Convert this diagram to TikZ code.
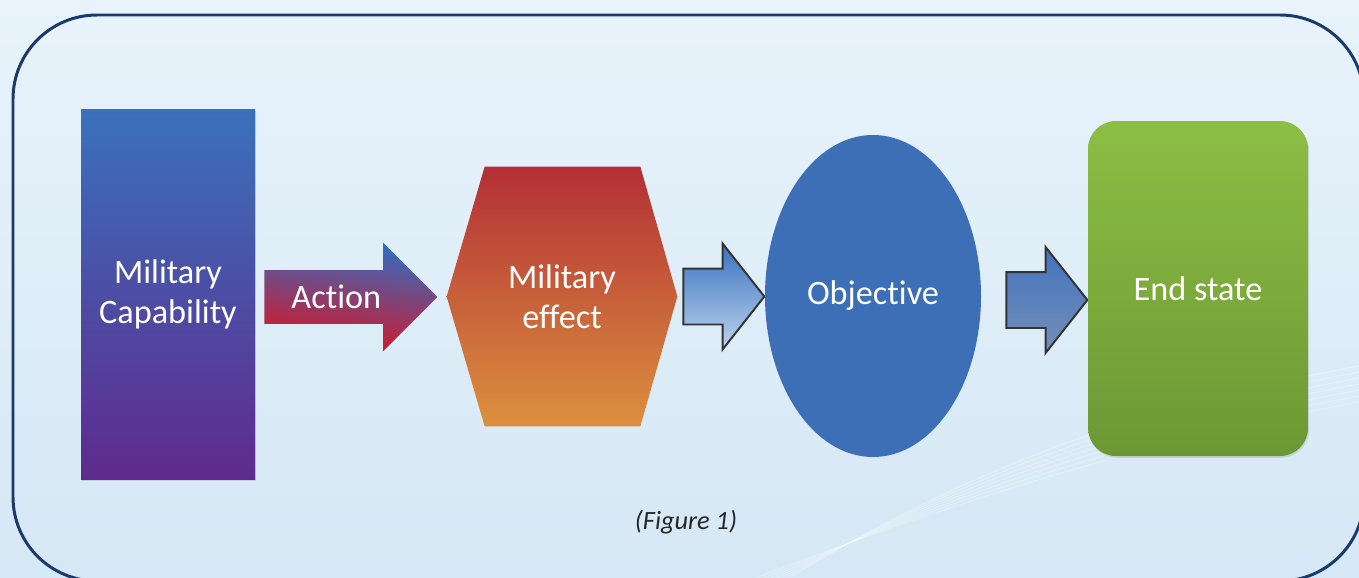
\documentclass[tikz,border=0pt]{standalone}
\usepackage{fontspec}
\setmainfont{Carlito}[Ligatures=NoCommon]
\usetikzlibrary{shapes.arrows,shapes.geometric,calc,shadows}

\definecolor{bgTop}{HTML}{E8F3FB}
\definecolor{bgBot}{HTML}{D5E8F5}
\definecolor{frameCol}{HTML}{1B3A6B}
\definecolor{capTop}{HTML}{3A71BB}
\definecolor{capBot}{HTML}{5F2A8E}
\definecolor{actTop}{HTML}{2F6DC2}
\definecolor{actBot}{HTML}{DC1423}
\definecolor{effTop}{HTML}{B32F36}
\definecolor{effBot}{HTML}{DC903E}
\definecolor{objFill}{HTML}{3D6FB7}
\definecolor{endTop}{HTML}{8DBE45}
\definecolor{endBot}{HTML}{6C9834}
\definecolor{linkTopA}{HTML}{3A72BF}
\definecolor{linkBotA}{HTML}{BDD4EC}
\definecolor{linkTopB}{HTML}{4372BD}
\definecolor{linkBotB}{HTML}{7490B8}

\newcommand\pu{0.02cm}

\begin{document}
\begin{tikzpicture}[x=0.02cm,y=-0.02cm,
    lbl/.style={text=white,font=\fontsize{19.5}{22.7}\selectfont,align=center},
    blockarrow/.style={single arrow,anchor=tail,inner xsep=0pt,outer sep=0pt},
    linkarrow/.style={blockarrow,draw=black!80,line width=1.1pt,
        minimum height=81*\pu,minimum width=104*\pu,inner ysep=27*\pu,
        single arrow head extend=25*\pu,single arrow tip angle=103.5},
    shadowed/.style={drop shadow={opacity=.25,shadow xshift=.6pt,shadow yshift=-1pt}}]
    \useasboundingbox (0,0) rectangle (1359,578);
    \shade[top color=bgTop,bottom color=bgBot] (0,0) rectangle (1359,578);
    % faint streaks lower right
    \foreach \d in {0,6,...,36}
        {\draw[white,opacity=.3,line width=.5pt] (700,600+\d) .. controls (950,500-\d) and (1150,440-\d) .. (1370,400-\d);}
    \draw[frameCol,line width=1.7pt,rounded corners=1.68cm] (13,15) rectangle (1364,581);

    \node[lbl,shadowed,top color=capTop,bottom color=capBot,minimum width=174*\pu,minimum height=370*\pu]
        (capability) at (168,294) {Military\\Capability};

    \node[blockarrow,top color=actTop,bottom color=actBot,shading angle=-8,
        minimum height=173*\pu,minimum width=108*\pu,inner ysep=26.5*\pu,
        single arrow head extend=27.5*\pu,single arrow tip angle=90]
        (action) at ($(capability.east)+(9,3)$) {};
    \node[lbl] at ($(action.tail)+(72,0)$) {Action};

    \node[minimum width=230*\pu,minimum height=259*\pu,inner sep=0pt] (effect) at (562,296.5) {};
    \shade[top color=effTop,bottom color=effBot] (effect.west)
        -- ($(effect.north west)+(38,0)$) -- ($(effect.north east)+(-37,0)$) -- (effect.east)
        -- ($(effect.south east)+(-37,0)$) -- ($(effect.south west)+(38,0)$) -- cycle;
    \node[lbl] at (effect) {Military\\effect};

    \node[linkarrow,top color=linkTopA,bottom color=linkBotA] (link1) at ($(effect.east)+(6,0)$) {};

    \node[lbl,ellipse,fill=objFill,minimum width=216*\pu,minimum height=322*\pu,inner sep=0pt]
        (objective) at (873,296) {Objective};

    \node[linkarrow,top color=linkTopB,bottom color=linkBotB] (link2) at ($(objective.east)+(25,4)$) {};

    \node[lbl,shadowed,rounded corners=0.56cm,top color=endTop,bottom color=endBot,
        minimum width=220*\pu,minimum height=335*\pu] (endstate) at (1198,288.5) {End state};

    \node[font=\fontsize{15}{18}\selectfont\itshape,text=black!85] (caption) at (686,522) {(Figure 1)};
\end{tikzpicture}
\end{document}
